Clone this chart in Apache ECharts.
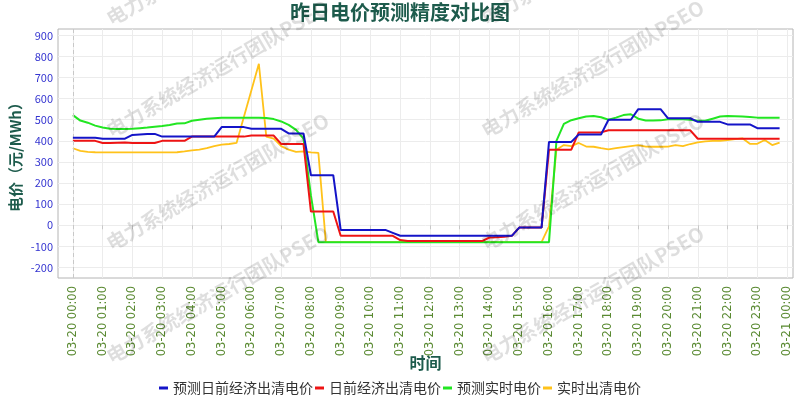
<!DOCTYPE html>
<html>
<head>
<meta charset="utf-8">
<script src="https://cdn.jsdelivr.net/npm/echarts@6/dist/echarts.min.js"></script>
<style>html,body{margin:0;padding:0;background:#fff;}#c{width:800px;height:400px;}</style>
</head>
<body>
<div id="c"></div>
<script>
const seriesNames = ['预测日前经济出清电价', '日前经济出清电价', '预测实时电价', '实时出清电价'];
const xTickLabels = ['03-20 00:00','03-20 01:00','03-20 02:00','03-20 03:00','03-20 04:00','03-20 05:00','03-20 06:00','03-20 07:00','03-20 08:00','03-20 09:00','03-20 10:00','03-20 11:00','03-20 12:00','03-20 13:00','03-20 14:00','03-20 15:00','03-20 16:00','03-20 17:00','03-20 18:00','03-20 19:00','03-20 20:00','03-20 21:00','03-20 22:00','03-20 23:00','03-21 00:00'];
const yTicks = [-200,-100,0,100,200,300,400,500,600,700,800,900];

// 15-minute values, 00:00 .. 23:45
const predDayAhead = [415,415,415,415,410,410,410,410,428,430,432,433,420,420,420,420,420,420,420,420,465,465,465,465,457,457,457,457,457,435,435,435,237,237,237,237,-22,-22,-22,-22,-22,-22,-22,-36,-50,-50,-50,-50,-50,-50,-50,-50,-50,-50,-50,-50,-50,-50,-50,-50,-11,-11,-11,-11,395,395,395,395,430,430,430,430,500,500,500,500,550,550,550,550,507,507,507,507,490,490,490,490,478,478,478,478,460,460,460,460];
const dayAhead = [400,400,400,400,390,390,391,392,390,390,390,390,400,400,400,400,420,420,420,420,420,420,420,420,425,425,425,425,385,385,385,385,65,65,65,65,-50,-50,-50,-50,-50,-50,-50,-50,-70,-75,-75,-75,-75,-75,-75,-75,-75,-75,-75,-75,-58,-57,-55,-50,-11,-11,-11,-11,358,358,358,358,440,440,440,440,450,450,450,450,450,450,450,450,450,450,450,450,410,410,410,410,410,410,410,410,410,410,410,410];
const predRealTime = [522,496,486,472,463,457,456,456,457,460,463,467,470,475,482,483,495,500,505,507,509,510,510,510,510,510,508,503,492,476,452,410,140,-80,-80,-80,-80,-80,-80,-80,-80,-80,-80,-80,-80,-80,-80,-80,-80,-80,-80,-80,-80,-80,-80,-80,-80,-80,-80,-80,-80,-80,-80,-80,-80,400,480,498,507,515,518,512,500,510,522,526,505,496,496,497,502,502,502,500,495,495,505,515,518,517,515,513,510,510,509,509];
const realTime = [365,352,348,346,345,345,345,345,345,345,345,345,345,345,346,350,355,358,365,375,382,385,390,515,640,765,420,410,375,358,348,350,345,343,-80,-80,-80,-80,-80,-80,-80,-80,-80,-80,-80,-80,-80,-80,-80,-80,-80,-80,-80,-80,-80,-80,-80,-80,-80,-80,-80,-80,-80,-80,-5,358,380,375,390,373,372,365,360,365,370,375,380,373,372,372,373,380,375,385,393,397,400,400,404,408,412,386,386,404,380,392];

const colors = ['#1414c8', '#ee1414', '#22e622', '#ffc21a'];
const toPairs = arr => arr.map((v, i) => [i / 4, v]);

const wmText = '电力系统经济运行团队PSEO';
const wmPos = [[108,20],[108,132],[108,245],[108,358],[483,20],[483,132],[483,245],[483,358]];

const chart = echarts.init(document.getElementById('c'));
const cjk = '"Noto Sans CJK SC", sans-serif';
const mk = (idx, width, z) => ({
  name: seriesNames[idx], type: 'line', data: toPairs([predDayAhead, dayAhead, predRealTime, realTime][idx]),
  showSymbol: false, symbol: 'none', z: z,
  lineStyle: { color: colors[idx], width: width }, itemStyle: { color: colors[idx] }
});
const sYellow = mk(3, 1.8, 2);
sYellow.markLine = { silent: true, symbol: 'none', label: { show: false },
  lineStyle: { type: [4, 3], color: '#c8c8c8', width: 1 }, data: [{ xAxis: 0 }] };
chart.setOption({
  animation: false,
  title: { text: '昨日电价预测精度对比图', left: 'center', top: -3,
    textStyle: { fontSize: 20, fontWeight: 'bold', color: '#1d5b4c', fontFamily: cjk } },
  grid: { left: 57, right: 7, top: 29, bottom: 122, show: true, borderColor: '#b4b4b4', borderWidth: 1 },
  legend: { top: 376, left: 'center', itemWidth: 9, itemHeight: 3, itemGap: 2, icon: 'rect',
    data: seriesNames, textStyle: { fontSize: 14, color: '#333', fontFamily: cjk } },
  xAxis: {
    type: 'value', min: -0.5, max: 24.2,
    name: '时间', nameLocation: 'middle', nameGap: 77, nameMoveOverlap: false,
    nameTextStyle: { fontSize: 16, fontWeight: 'bold', color: '#1d5b4c', fontFamily: cjk },
    axisLine: { show: false },
    axisTick: { show: true, length: 4, lineStyle: { color: '#c8c8c8' }, customValues: xTickLabels.map((s, i) => i) },
    axisLabel: { rotate: 90, margin: 8, fontSize: 11.5, color: '#5a8a32', fontFamily: 'DejaVu Sans',
      customValues: xTickLabels.map((s, i) => i), formatter: v => xTickLabels[Math.round(v)] || '' },
    splitLine: { show: true, lineStyle: { color: '#ececec', width: 1 } }
  },
  yAxis: {
    type: 'value', min: -250, max: 930,
    name: '电价（元/MWh）', nameLocation: 'middle', nameGap: 35, nameMoveOverlap: false,
    nameTextStyle: { fontSize: 15, fontWeight: 'bold', color: '#1d5b4c', fontFamily: cjk },
    axisLine: { show: false }, axisTick: { show: false, customValues: yTicks },
    axisLabel: { margin: 5, fontSize: 11, color: '#3434d0', fontFamily: cjk, customValues: yTicks },
    splitLine: { show: true, lineStyle: { color: '#ececec', width: 1 } }
  },
  series: [sYellow, mk(2, 2, 3), mk(1, 2, 4), mk(0, 2, 5)],
  graphic: wmPos.map(p => ({
    type: 'text', x: p[0], y: p[1], rotation: Math.PI / 6, z: 100, silent: true,
    style: { text: wmText, fill: 'rgba(0,0,0,0.13)', font: 'bold 20px "Noto Sans CJK SC"',
      textAlign: 'left', textVerticalAlign: 'middle', verticalAlign: 'middle' }
  }))
});
</script>
</body>
</html>
